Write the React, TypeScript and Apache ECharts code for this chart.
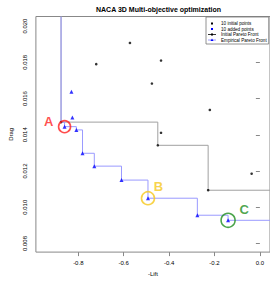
import React, { useEffect, useRef } from "react";
import * as echarts from "echarts";

// ---- data ----
const initialLift = [-0.876, -0.721, -0.5725, -0.4355, -0.4757, -0.2205, -0.4355, -0.4497, -0.0363, -0.2279];
const initialDrag = [0.0147, 0.0179, 0.01907, 0.0181, 0.01683, 0.01537, 0.01411, 0.01342, 0.01185, 0.01094];
const addedLift = [-0.8303, -0.826, -0.8605, -0.8086, -0.7814, -0.7295, -0.6097, -0.493, -0.2755, -0.1401];
const addedDrag = [0.01637, 0.01495, 0.01445, 0.01427, 0.01298, 0.01227, 0.0115, 0.0105, 0.00956, 0.00928];
const xTicks = [-0.8, -0.6, -0.4, -0.2, 0.0];
const yTicks = [0.008, 0.01, 0.012, 0.014, 0.016, 0.018, 0.02];
const highlightNames = ["A", "B", "C"];
const highlightIndex = [2, 7, 9];
const legendLabels = ["10 initial points", "10 added points", "Initial Pareto Front", "Empirical Pareto Front"];
const titleText = "NACA 3D Multi-objective optimization";

const X_MIN = -0.9868;
const X_MAX = 0.0446;
const Y_MIN = 0.007525;
const Y_MAX = 0.02053;

const FONT = "Liberation Sans, Arial, Helvetica, sans-serif";

function paretoFront(xs: number[], ys: number[]): number[][] {
  const pts = xs.map((x, i) => [x, ys[i]]).sort((a, b) => a[0] - b[0] || a[1] - b[1]);
  const front: number[][] = [];
  let best = Infinity;
  for (const p of pts) {
    if (p[1] < best) {
      front.push(p);
      best = p[1];
    }
  }
  return front;
}

function stair(front: number[][]) {
  return [[front[0][0], Y_MAX], ...front, [X_MAX, front[front.length - 1][1]]];
}

export default function App() {
  const ref = useRef<HTMLDivElement>(null);
  useEffect(() => {
    if (!ref.current) return;
    const chart = echarts.init(ref.current, undefined, { renderer: "svg" });
    const initPts = initialLift.map((x, i) => [x, initialDrag[i]]);
    const addPts = addedLift.map((x, i) => [x, addedDrag[i]]);
    const initFront = paretoFront(initialLift, initialDrag);
    const allFront = paretoFront([...initialLift, ...addedLift], [...initialDrag, ...addedDrag]);

    const hlStyle = [
      { color: "#ff1f1f", size: 12, offset: [-16, -5] },
      { color: "#f6c81b", size: 13, offset: [10.5, -12] },
      { color: "#1f8f1f", size: 14, offset: [16, -10.5] },
    ];

    const hlSeries = highlightNames.map((name, k) => ({
      type: "scatter",
      name: "hl" + name,
      data: [addPts[highlightIndex[k]]],
      symbol: "circle",
      symbolSize: hlStyle[k].size,
      itemStyle: { color: "rgba(0,0,0,0)", borderColor: hlStyle[k].color, borderWidth: 1.6 },
      label: {
        show: true,
        position: "inside",
        offset: hlStyle[k].offset,
        formatter: name,
        color: hlStyle[k].color,
        fontSize: 13,
        fontWeight: "bold",
        fontFamily: FONT,
      },
      z: 10,
      silent: true,
    }));

    const rowY = [23.5, 29, 34.5, 40];
    const legendGraphic: any[] = [
      { type: "rect", shape: { x: 206, y: 17, width: 62.7, height: 27 }, style: { fill: "#fff", stroke: "#777", lineWidth: 0.8 }, z: 20 },
      { type: "rect", shape: { x: 211, y: rowY[0] - 1, width: 2, height: 2 }, style: { fill: "#000" }, z: 21 },
      { type: "rect", shape: { x: 211, y: rowY[1] - 1, width: 2, height: 2 }, style: { fill: "#0000ff" }, z: 21 },
      { type: "line", shape: { x1: 208, y1: rowY[2], x2: 216, y2: rowY[2] }, style: { stroke: "#000", lineWidth: 0.8 }, z: 21 },
      { type: "rect", shape: { x: 211, y: rowY[2] - 1, width: 2, height: 2 }, style: { fill: "#000" }, z: 22 },
      { type: "line", shape: { x1: 208, y1: rowY[3], x2: 216, y2: rowY[3] }, style: { stroke: "#9a9aff", lineWidth: 1 }, z: 21 },
      { type: "polygon", shape: { points: [[212, rowY[3] - 1.5], [210.5, rowY[3] + 1], [213.5, rowY[3] + 1]] }, style: { fill: "#0000ff" }, z: 22 },
      ...legendLabels.map((t, i) => ({
        type: "text",
        x: 221,
        y: rowY[i],
        style: { text: t, fontSize: 4.6, fontFamily: FONT, fill: "#000", verticalAlign: "middle", align: "left" },
        z: 21,
      })),
    ];

    chart.setOption({
      animation: false,
      title: {
        text: titleText,
        left: 96,
        top: 6,
        padding: 0,
        textStyle: { fontSize: 7, fontWeight: "bold", fontFamily: FONT, color: "#000" },
      },
      grid: {
        left: 33.5,
        right: -2,
        top: 16.5,
        bottom: 27.5,
        show: true,
        borderColor: "#888",
        borderWidth: 1,
        backgroundColor: "transparent",
      },
      xAxis: {
        type: "value",
        min: X_MIN,
        max: X_MAX,
        name: "-Lift",
        nameLocation: "middle",
        nameGap: 13,
        nameTextStyle: { fontSize: 6, fontFamily: FONT, color: "#000" },
        axisLine: { show: false },
        axisTick: { show: true, length: 4, lineStyle: { color: "#888" }, customValues: xTicks },
        axisLabel: {
          customValues: xTicks,
          fontSize: 6,
          fontFamily: FONT,
          color: "#000",
          margin: 8,
          formatter: (v: number) => v.toFixed(1),
        },
        splitLine: { show: false },
      },
      yAxis: {
        type: "value",
        min: Y_MIN,
        max: Y_MAX,
        name: "Drag",
        nameLocation: "middle",
        nameGap: 21,
        nameRotate: 90,
        nameTextStyle: { fontSize: 6, fontFamily: FONT, color: "#000" },
        axisLine: { show: false },
        axisTick: { show: true, length: 4, lineStyle: { color: "#888" }, customValues: yTicks },
        axisLabel: {
          customValues: yTicks,
          rotate: 90,
          fontSize: 6,
          fontFamily: FONT,
          color: "#000",
          margin: 8,
          formatter: (v: number) => v.toFixed(3),
        },
        splitLine: { show: false },
      },
      series: [
        {
          type: "line",
          name: legendLabels[2],
          data: stair(initFront),
          step: "end",
          showSymbol: false,
          symbol: "none",
          lineStyle: { color: "#a0a0a0", width: 1 },
          clip: true,
          z: 3,
        },
        {
          type: "line",
          name: legendLabels[3],
          data: stair(allFront),
          step: "end",
          showSymbol: false,
          symbol: "none",
          lineStyle: { color: "#9a9aff", width: 1 },
          clip: true,
          z: 4,
        },
        {
          type: "scatter",
          name: legendLabels[0],
          data: initPts,
          symbol: "circle",
          symbolSize: 2.6,
          itemStyle: { color: "#000" },
          z: 5,
        },
        {
          type: "scatter",
          name: legendLabels[1],
          data: addPts,
          symbol: "triangle",
          symbolSize: 4,
          itemStyle: { color: "#0000ff" },
          z: 6,
        },
        ...hlSeries,
      ],
      graphic: legendGraphic,
    });
    return () => chart.dispose();
  }, []);
  return <div ref={ref} style={{ width: 270, height: 282, position: "absolute", left: 0, top: 0 }} />;
}
